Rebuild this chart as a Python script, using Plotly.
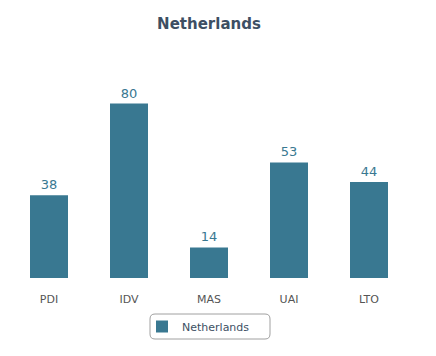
import plotly.graph_objects as go

categories = ["PDI", "IDV", "MAS", "UAI", "LTO"]
values = [38, 80, 14, 53, 44]
series_name = "Netherlands"
title = "Netherlands"

# page body has an 8px margin, so the figure is 8px smaller and all pixel
# positions below are reference positions minus 8
OFF = 8
W, H = 436 - OFF, 356 - OFF
ml, mr, mt, mb = 1, 27, 52, 78


def px_x(p):
    return (p - OFF - ml) / (W - ml - mr)


def px_y(p):
    return (H - mb - (p - OFF)) / (H - mt - mb)


fig = go.Figure()
fig.add_trace(go.Bar(
    x=categories, y=values, name=series_name,
    marker=dict(color="#397891", line=dict(width=0)),
    text=[str(v) for v in values], textposition="outside",
    textfont=dict(color="#397891", size=13, family="DejaVu Sans"),
    cliponaxis=False,
))

x0, x1, y0, y1, r = 150, 270, 314, 339, 5
path = (f"M {px_x(x0 + r)},{px_y(y0)} L {px_x(x1 - r)},{px_y(y0)} "
        f"Q {px_x(x1)},{px_y(y0)} {px_x(x1)},{px_y(y0 + r)} "
        f"L {px_x(x1)},{px_y(y1 - r)} Q {px_x(x1)},{px_y(y1)} {px_x(x1 - r)},{px_y(y1)} "
        f"L {px_x(x0 + r)},{px_y(y1)} Q {px_x(x0)},{px_y(y1)} {px_x(x0)},{px_y(y1 - r)} "
        f"L {px_x(x0)},{px_y(y0 + r)} Q {px_x(x0)},{px_y(y0)} {px_x(x0 + r)},{px_y(y0)} Z")

fig.update_layout(
    width=W, height=H,
    margin=dict(l=ml, r=mr, t=mt, b=mb, autoexpand=False),
    paper_bgcolor="white", plot_bgcolor="white",
    bargap=0.525,
    title=dict(text="<b>" + title + "</b>", xref="paper", x=0.5, xanchor="center",
               yref="container", y=1 - (24 - OFF) / H, yanchor="middle",
               font=dict(size=15, color="#3d4f63", family="DejaVu Sans")),
    xaxis=dict(showgrid=False, showline=False, zeroline=False,
               ticks="outside", ticklen=11, tickcolor="rgba(0,0,0,0)",
               tickfont=dict(size=11, color="#555555", family="DejaVu Sans")),
    yaxis=dict(range=[0, 100], visible=False),
    showlegend=True,
    legend=dict(orientation="h", x=px_x(142), xanchor="left", y=px_y(326.5), yanchor="middle",
                font=dict(size=11, color="#3d4f63", family="DejaVu Sans"),
                bgcolor="rgba(0,0,0,0)"),
    shapes=[dict(type="path", xref="paper", yref="paper", path=path,
                 line=dict(color="#a0a0a0", width=1), fillcolor="rgba(0,0,0,0)")],
)

fig.write_html("out.html")
